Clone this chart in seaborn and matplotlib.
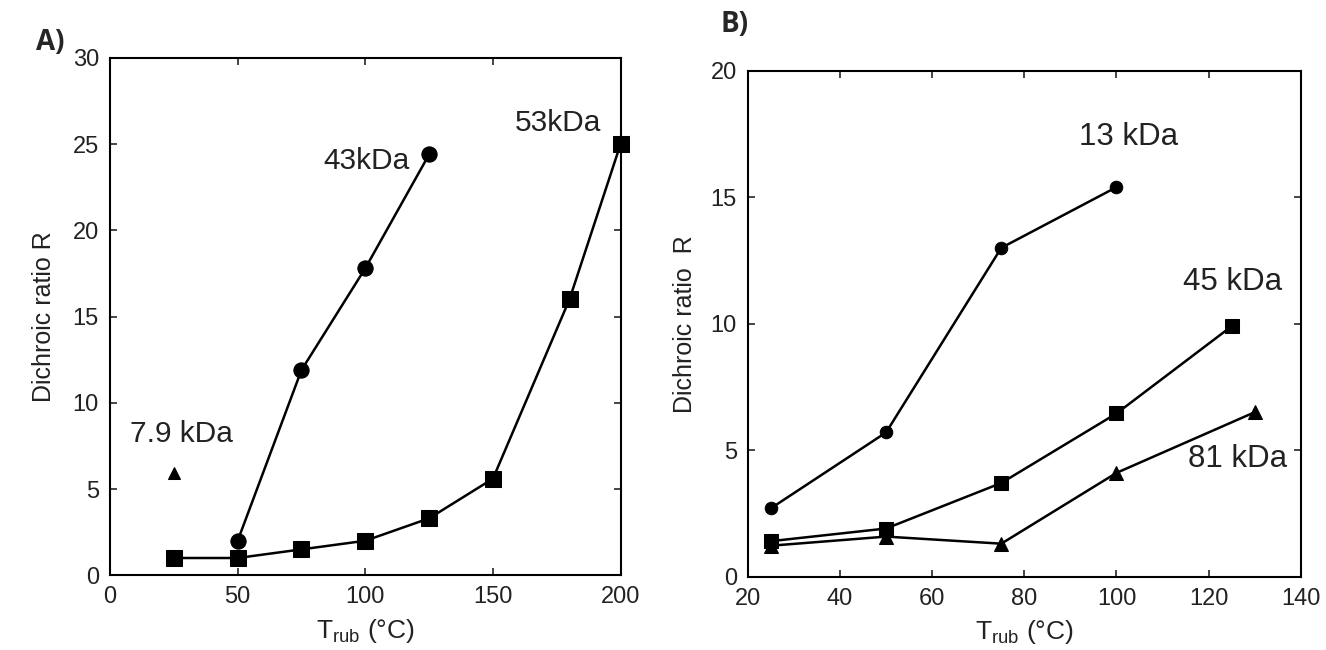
import matplotlib
matplotlib.use("Agg")
import matplotlib.pyplot as plt
import seaborn as sns

# Panel A data
a_43_x = [50, 75, 100, 125]
a_43_y = [2.0, 11.9, 17.8, 24.4]
a_53_x = [25, 50, 75, 100, 125, 150, 180, 200]
a_53_y = [1.0, 1.0, 1.5, 2.0, 3.3, 5.6, 16.0, 25.0]
a_79_x = [25]
a_79_y = [5.9]

# Panel B data
b_13_x = [25, 50, 75, 100]
b_13_y = [2.7, 5.7, 13.0, 15.4]
b_45_x = [25, 50, 75, 100, 125]
b_45_y = [1.4, 1.9, 3.7, 6.45, 9.9]
b_81_x = [25, 50, 75, 100, 130]
b_81_y = [1.22, 1.58, 1.3, 4.1, 6.5]

sns.set_style("ticks")
plt.rcParams['font.family'] = ['Liberation Sans', 'DejaVu Sans']
plt.rcParams['mathtext.fontset'] = 'custom'
plt.rcParams['mathtext.rm'] = 'Liberation Sans'
plt.rcParams['mathtext.it'] = 'Liberation Sans'

fig = plt.figure(figsize=(13.26, 6.5), dpi=100)
axA = fig.add_axes([0.083, 0.115, 0.385, 0.796])
axB = fig.add_axes([0.564, 0.113, 0.417, 0.778])

line_kw = dict(color="black", linewidth=1.8, markeredgecolor="black", clip_on=False)
txt = "#222222"

# Panel A
sns.lineplot(x=a_43_x, y=a_43_y, marker="o", markersize=11, ax=axA, **line_kw)
sns.lineplot(x=a_53_x, y=a_53_y, marker="s", markersize=11, ax=axA, **line_kw)
sns.lineplot(x=a_79_x, y=a_79_y, marker="^", markersize=9, ax=axA, **line_kw)
axA.set_xlim(0, 200)
axA.set_ylim(0, 30)
axA.set_xticks([0, 50, 100, 150, 200])
axA.set_yticks([0, 5, 10, 15, 20, 25, 30])
axA.set_ylabel("Dichroic ratio R", fontsize=18, color=txt, labelpad=12)
axA.text(100.5, 24.0, "43kDa", fontsize=21.5, ha="center", va="center", color=txt)
axA.text(175.5, 26.2, "53kDa", fontsize=21.5, ha="center", va="center", color=txt)
axA.text(28, 8.2, "7.9 kDa", fontsize=21.5, ha="center", va="center", color=txt)

# Panel B
sns.lineplot(x=b_13_x, y=b_13_y, marker="o", markersize=9, ax=axB, **line_kw)
sns.lineplot(x=b_45_x, y=b_45_y, marker="s", markersize=10, ax=axB, **line_kw)
sns.lineplot(x=b_81_x, y=b_81_y, marker="^", markersize=10, ax=axB, **line_kw)
axB.set_xlim(20, 140)
axB.set_ylim(0, 20)
axB.set_xticks([20, 40, 60, 80, 100, 120, 140])
axB.set_yticks([0, 5, 10, 15, 20])
axB.set_ylabel("Dichroic ratio  R", fontsize=18, color=txt, labelpad=10)
axB.text(102.7, 17.4, "13 kDa", fontsize=22.5, ha="center", va="center", color=txt)
axB.text(125.1, 11.65, "45 kDa", fontsize=22.5, ha="center", va="center", color=txt)
axB.text(126.2, 4.65, "81 kDa", fontsize=22.5, ha="center", va="center", color=txt)

for ax in (axA, axB):
    ax.set_xlabel(r"T$_{\rm rub}$ (°C)", fontsize=19, color=txt, labelpad=6)
    ax.tick_params(direction="in", top=True, right=True, length=5, width=1.2,
                   labelsize=17, labelcolor=txt, pad=8)
    for s in ax.spines.values():
        s.set_linewidth(1.5)
        s.set_color("black")

fig.text(0.027, 0.935, "A)", fontsize=20, fontweight="bold", family="Open Sans", va="center")
fig.text(0.543, 0.962, "B)", fontsize=20, fontweight="bold", family="Open Sans", va="center")

fig.savefig("out.png", dpi=100)
